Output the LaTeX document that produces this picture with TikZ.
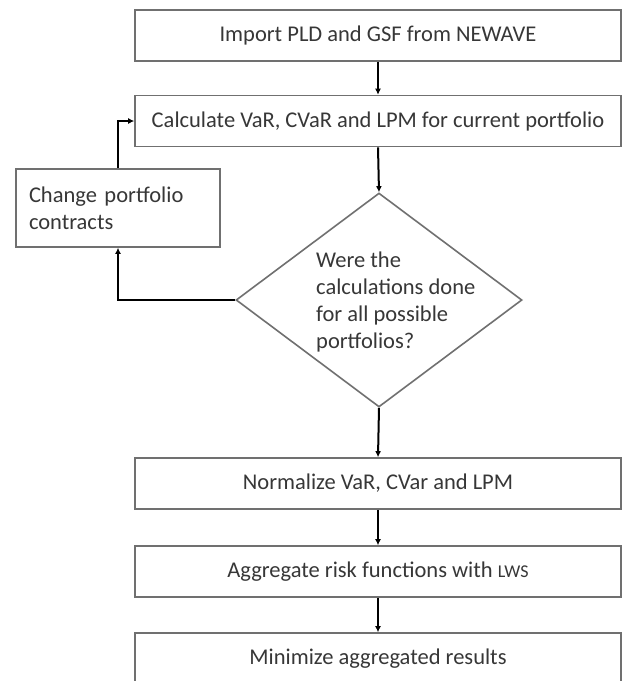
\documentclass[tikz,border=0pt]{standalone}
\usepackage{fontspec}
\setmainfont{Carlito}
\usetikzlibrary{arrows.meta,shapes.geometric}
\definecolor{txtgray}{RGB}{55,55,55}
\definecolor{boxgray}{RGB}{112,112,112}
\begin{document}
\begin{tikzpicture}[x=1pt,y=-1pt,
  every node/.style={font=\fontsize{22.5}{27}\selectfont, text=txtgray},
  box/.style={draw=boxgray, line width=1.6pt, rectangle, minimum width=486pt, minimum height=51pt, inner sep=0pt, fill=white},
  sidebox/.style={draw=boxgray, line width=1.6pt, rectangle, minimum width=204pt, minimum height=78pt, text width=178pt, inner xsep=13pt, inner ysep=0pt, align=left},
  decbox/.style={draw=boxgray, line width=1.6pt, diamond, minimum width=286pt, minimum height=214pt, inner sep=0pt},
  arr/.style={draw=black, line width=2pt, -{Latex[length=6pt,width=6pt]}}
]
\useasboundingbox (0,0) rectangle (624,681);
\clip (0,0) rectangle (624,681);
\fill[white] (0,0) rectangle (624,681);

\node[box] (import) at (378,35.5) {Import PLD and GSF from NEWAVE};
\node[box] (calc) at (378,121) {Calculate VaR, CVaR and LPM for current portfolio};
\node[sidebox] (change) at (118,208) {Change portfolio\\contracts};
\node[decbox] (dec) at (379,300) {};
\node[anchor=west, align=left, inner sep=0pt] (dectext) at (316,302) {Were the\\calculations done\\for all possible\\portfolios?};
\node[box] (norm) at (378,483.5) {Normalize VaR, CVar and LPM};
\node[box] (agg) at (378,571.5) {Aggregate risk functions with {\fontsize{18}{20}\selectfont LWS}};
\node[box] (mini) at (378,658.5) {Minimize aggregated results};

\draw[arr] (import.south) -- (calc.north);
\draw[arr] (calc.south) -- (dec.north);
\draw[arr] (dec.south) -- (norm.north);
\draw[arr] (norm.south) -- (agg.north);
\draw[arr] (agg.south) -- (mini.north);
\draw[arr] (dec.west) -| (change.south);
\draw[arr] (change.north) |- (calc.west);
\end{tikzpicture}
\end{document}
